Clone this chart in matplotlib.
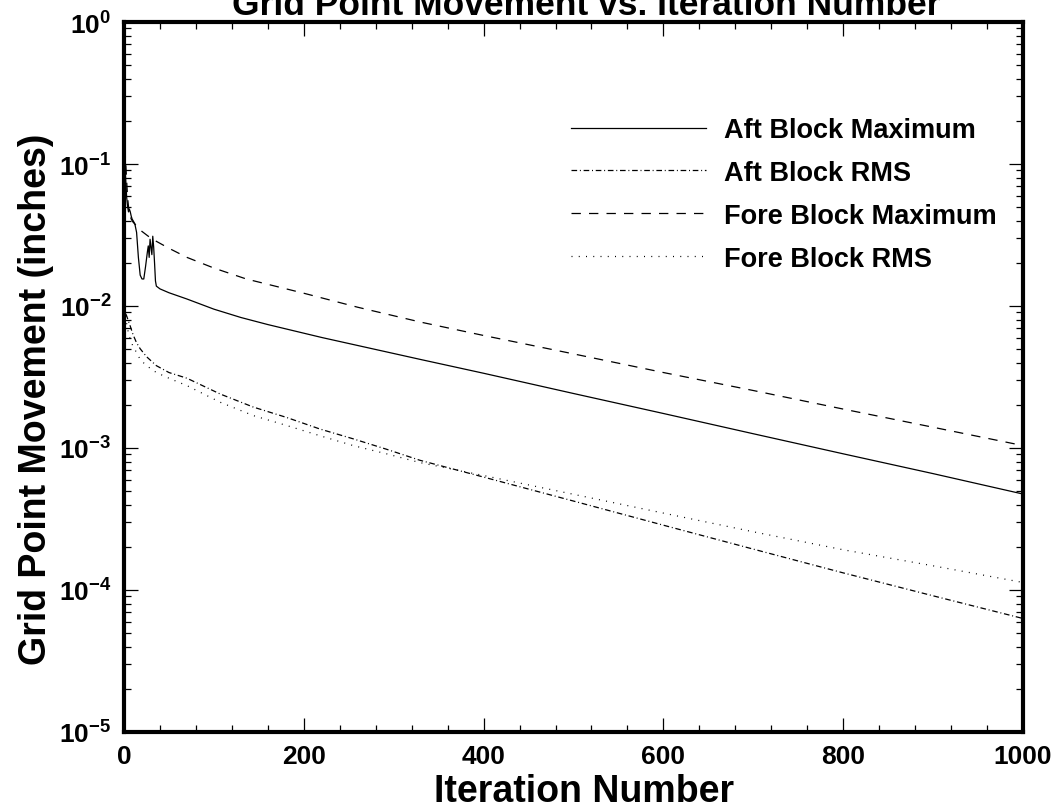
import matplotlib
matplotlib.use("Agg")
import matplotlib.pyplot as plt
from matplotlib.ticker import MultipleLocator, LogLocator, NullFormatter

plt.rcParams["font.family"] = ["Liberation Sans", "DejaVu Sans"]
plt.rcParams["font.weight"] = "bold"
plt.rcParams["mathtext.fontset"] = "custom"
plt.rcParams["mathtext.rm"] = "Liberation Sans:bold"
plt.rcParams["mathtext.bf"] = "Liberation Sans:bold"
plt.rcParams["axes.unicode_minus"] = False

# data (iteration, movement in inches)
aft_max_it = [1, 2, 3, 4, 5, 6, 7, 8, 9, 10, 12, 14, 16, 18, 20, 22, 24, 26, 27, 28,
              29, 30, 31, 32, 33, 34, 35, 36, 40, 50, 70, 100, 130, 160, 220, 330,
              400, 500, 600, 700, 800, 900, 1000]
aft_max = [0.10, 0.075, 0.058, 0.050, 0.046, 0.048, 0.046, 0.043, 0.041, 0.040,
           0.038, 0.033, 0.022, 0.0165, 0.0155, 0.0155, 0.019, 0.024, 0.0265, 0.022,
           0.0295, 0.026, 0.023, 0.031, 0.026, 0.020, 0.015, 0.0138, 0.0132, 0.0124,
           0.0112, 0.0095, 0.0083, 0.0074, 0.0060, 0.0042,
           0.00336, 0.00242, 0.00175, 0.00126, 0.00091, 0.00066, 0.000474]

aft_rms_it = [2, 3, 5, 7, 10, 14, 18, 25, 36, 50, 70, 107, 144, 181, 218, 255, 292,
              329, 400, 500, 600, 700, 800, 900, 1000]
aft_rms = [0.0088, 0.0085, 0.0078, 0.0072, 0.0063, 0.0055, 0.0050, 0.0044, 0.0038,
           0.0034, 0.0031, 0.0024, 0.00194, 0.00164, 0.00136, 0.00116, 0.00098,
           0.00082, 0.000624, 0.000423, 0.000286, 0.000194, 0.000132, 0.000091,
           0.000063]

fore_max_it = [1, 2, 3, 4, 5, 6, 8, 10, 15, 20, 27, 34, 50, 70, 100, 136, 200, 260,
               330, 400, 500, 600, 700, 800, 900, 1000]
fore_max = [0.13, 0.10, 0.075, 0.058, 0.050, 0.045, 0.041, 0.039, 0.036, 0.0335,
            0.031, 0.029, 0.0255, 0.022, 0.0185, 0.0155, 0.0123, 0.0098, 0.0077,
            0.0062, 0.0046, 0.0034, 0.00254, 0.00188, 0.0014, 0.00104]

fore_rms_it = [2, 3, 5, 7, 10, 14, 18, 25, 36, 50, 70, 107, 144, 181, 218, 255, 292,
               329, 400, 500, 600, 700, 800, 900, 1000]
fore_rms = [0.0085, 0.0075, 0.0064, 0.0058, 0.0052, 0.0047, 0.0042, 0.0038, 0.0034,
            0.0031, 0.00275, 0.0021, 0.00169, 0.00144, 0.00122, 0.00104, 0.00091,
            0.00079, 0.00064, 0.000472, 0.000348, 0.000257, 0.000192, 0.000148,
            0.000113]

labels = ["Aft Block Maximum", "Aft Block RMS", "Fore Block Maximum", "Fore Block RMS"]

fig = plt.figure(figsize=(10.57, 8.12), dpi=100)
ax = fig.add_axes([124 / 1057, 1 - 733 / 812, 899 / 1057, 710 / 812])

lw = 0.9
ax.plot(aft_max_it, aft_max, color="black", lw=lw, label=labels[0])
ax.plot(aft_rms_it, aft_rms, color="black", lw=lw, dashes=(4.5, 2.2, 0.8, 2.2), label=labels[1])
ax.plot(fore_max_it, fore_max, color="black", lw=lw, dashes=(7.5, 6.5), label=labels[2])
ax.plot(fore_rms_it, fore_rms, color="black", lw=lw, dashes=(0.8, 5.0), label=labels[3])

ax.set_yscale("log")
ax.set_xlim(0, 1000)
ax.set_ylim(1e-5, 1e0)
ax.xaxis.set_major_locator(MultipleLocator(200))
ax.xaxis.set_minor_locator(MultipleLocator(40))
ax.yaxis.set_major_locator(LogLocator(base=10, numticks=10))
ax.yaxis.set_minor_locator(LogLocator(base=10, subs=range(2, 10), numticks=10))
ax.yaxis.set_minor_formatter(NullFormatter())

ax.tick_params(which="both", direction="in", top=True, right=True, labelsize=19)
ax.tick_params(which="major", length=10, width=0.9)
ax.tick_params(which="minor", length=5, width=0.9)
ax.tick_params(axis="x", pad=9)
ax.tick_params(axis="y", pad=9)
for s in ax.spines.values():
    s.set_linewidth(3)

ax.set_xlabel("Iteration Number", fontsize=27, fontweight="bold", va="baseline")
ax.xaxis.set_label_coords((584 - 124) / 899, (733 - 802) / 710)
ax.set_ylabel("Grid Point Movement (inches)", fontsize=27, fontweight="bold")
ax.yaxis.set_label_coords(-0.078, 0.47)
fig.text(0.555, 1 - 15 / 812, "Grid Point Movement vs. Iteration Number",
         ha="center", va="baseline", fontsize=25.5, fontweight="bold")

leg = ax.legend(loc="upper left", bbox_to_anchor=(0.497, 0.866), frameon=False,
                handlelength=5.0, handletextpad=0.65, labelspacing=0.62,
                borderaxespad=0, borderpad=0, prop={"size": 19.5, "weight": "bold"})

fig.savefig("out.png", dpi=100)
